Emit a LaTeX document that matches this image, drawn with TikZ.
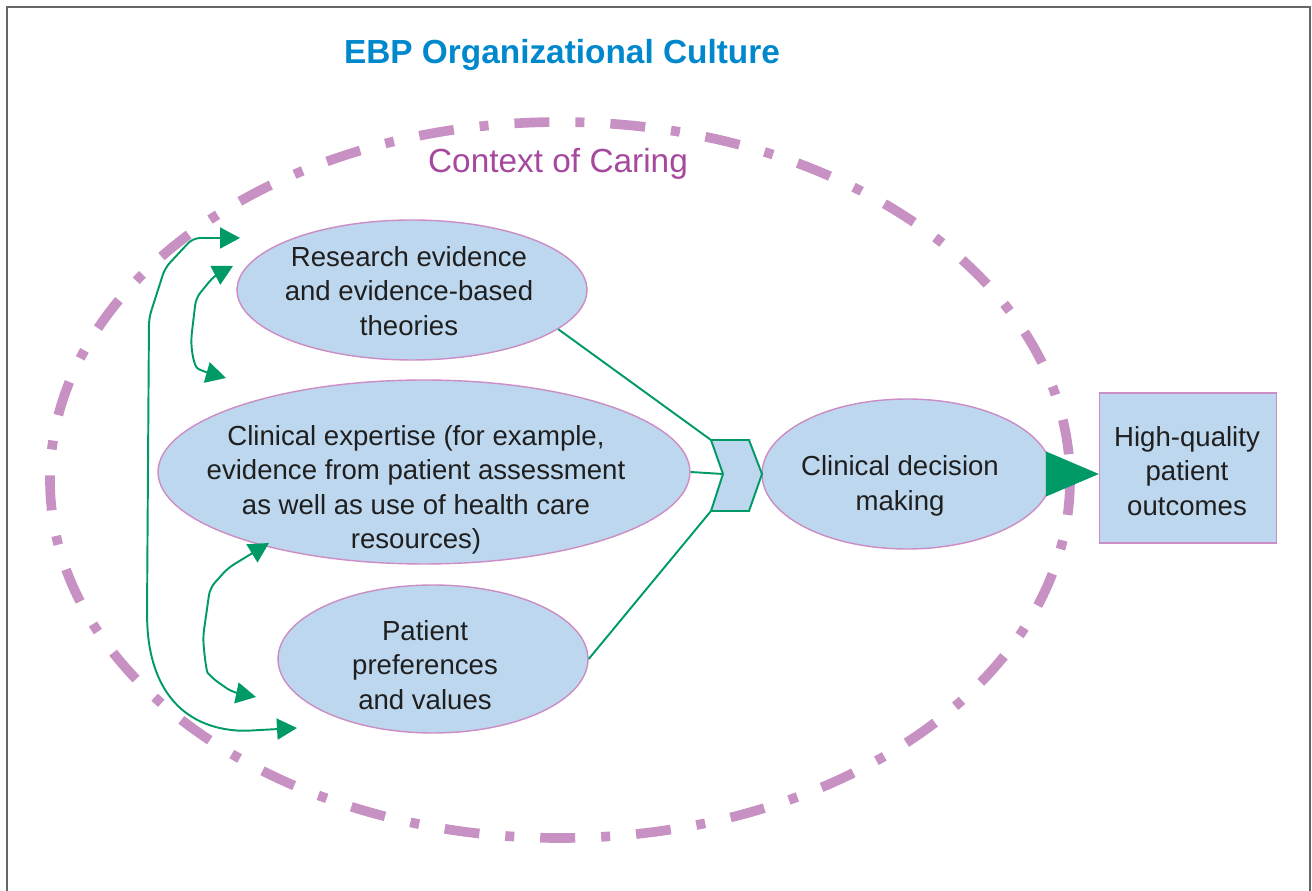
\documentclass[tikz,border=0pt]{standalone}
\usepackage{fontspec}
\setmainfont{Liberation Sans}
\usetikzlibrary{shapes.geometric,arrows.meta}
\definecolor{ebpblue}{RGB}{0,136,204}
\definecolor{caring}{RGB}{166,72,158}
\definecolor{ringpink}{RGB}{200,145,195}
\definecolor{edgepink}{RGB}{204,140,196}
\definecolor{fillblue}{RGB}{189,215,238}
\definecolor{ebpgreen}{RGB}{0,154,102}
\begin{document}
\begin{tikzpicture}[x=0.02cm,y=-0.02cm,
    bubble/.style={ellipse,draw=edgepink,fill=fillblue,line width=0.8pt,inner sep=0pt},
    txt/.style={align=center,font=\fontsize{15.7}{19.6}\selectfont,text=black!88},
    link/.style={draw=ebpgreen,line width=1.1pt},
    both/.style={link,{Triangle[length=0.4cm,width=0.42cm]}-{Triangle[length=0.4cm,width=0.42cm]},rounded corners=4pt},
    bigtip/.style={draw=ebpgreen,line width=0.4pt,-{Triangle[length=1.06cm,width=0.9cm]}}]
  \useasboundingbox (0,0) rectangle (1312,891);
  \draw[black!60,line width=1.2pt] (7,891) -- (7,7) -- (1310,7) -- (1310,891);
  \node[font=\fontsize{19}{23}\selectfont\bfseries,text=ebpblue] (title) at (562,55) {EBP Organizational Culture};
  % context ring
  \draw[ringpink,line width=5.5pt,dash pattern=on 0.7cm off 0.52cm on 0.18cm off 0.52cm]
    (560,480) ellipse [x radius=510,y radius=358];
  \node[font=\fontsize{19}{23}\selectfont,text=caring] (ctx) at (558,164) {Context of Caring};
  % the ellipses and the box
  \node[bubble,minimum width=7cm,minimum height=2.8cm] (res) at (412,290) {};
  \node[bubble,minimum width=10.64cm,minimum height=3.68cm] (exp) at (424,472) {};
  \node[bubble,minimum width=6.2cm,minimum height=2.96cm] (pat) at (433,659) {};
  \node[bubble,minimum width=5.8cm,minimum height=3cm] (dec) at (907,474) {};
  \node[draw=edgepink,fill=fillblue,line width=0.8pt,minimum width=3.54cm,minimum height=3cm] (out) at (1188,468) {};
  \node[txt] (res-t) at (409,291) {Research evidence\\and evidence-based\\theories};
  \node[txt] (exp-t) at (416,490) {Clinical expertise (for example,\\evidence from patient assessment\\as well as use of health care\\resources)};
  \node[txt] (pat-t) at (425,665) {Patient\\preferences\\and values};
  \node[txt] (dec-t) at (900,486) {Clinical decision\\making};
  \node[txt] (out-t) at (1187,471) {High-quality\\patient\\outcomes};
  % chevron
  \coordinate (ch1) at (711,440);
  \coordinate (ch2) at (749,440);
  \coordinate (ch3) at (762,474);
  \coordinate (ch4) at (749,511);
  \coordinate (ch5) at (711,511);
  \coordinate (ch6) at (723,474);
  \draw[link,fill=fillblue] (ch1) -- (ch2) -- (ch3) -- (ch4) -- (ch5) -- (ch6) -- cycle;
  \draw[link] (res.-15) -- (ch1);
  \draw[link] (exp.east) -- (ch6);
  \draw[link] (pat.east) -- (ch5);
  \draw[bigtip] ([xshift=-0.14cm]dec.east) -- (dec.east -| out.west);
  % free ends of the left arrows
  \coordinate (o1) at (240,238);
  \coordinate (o2) at (297,728);
  \coordinate (a1) at (233,266);
  \coordinate (a2) at (226,378);
  \coordinate (b1) at (269,543);
  \coordinate (b2) at (256,697);
  \draw[both] (o1) -- (193,238) -- (165,268) -- (149,318) -- (147,615)
    .. controls (149,680) and (175,725) .. (242,731) -- (o2);
  \draw[both] (a1) -- (214,276) -- (196,298) -- (191,340)
    .. controls (193,362) and (196,368) .. (205,372) -- (a2);
  \draw[both] (b1) -- (228,568) -- (210,588) -- (203,637)
    .. controls (205,662) and (207,672) .. (212,678) -- (232,692) -- (b2);
\end{tikzpicture}
\end{document}
